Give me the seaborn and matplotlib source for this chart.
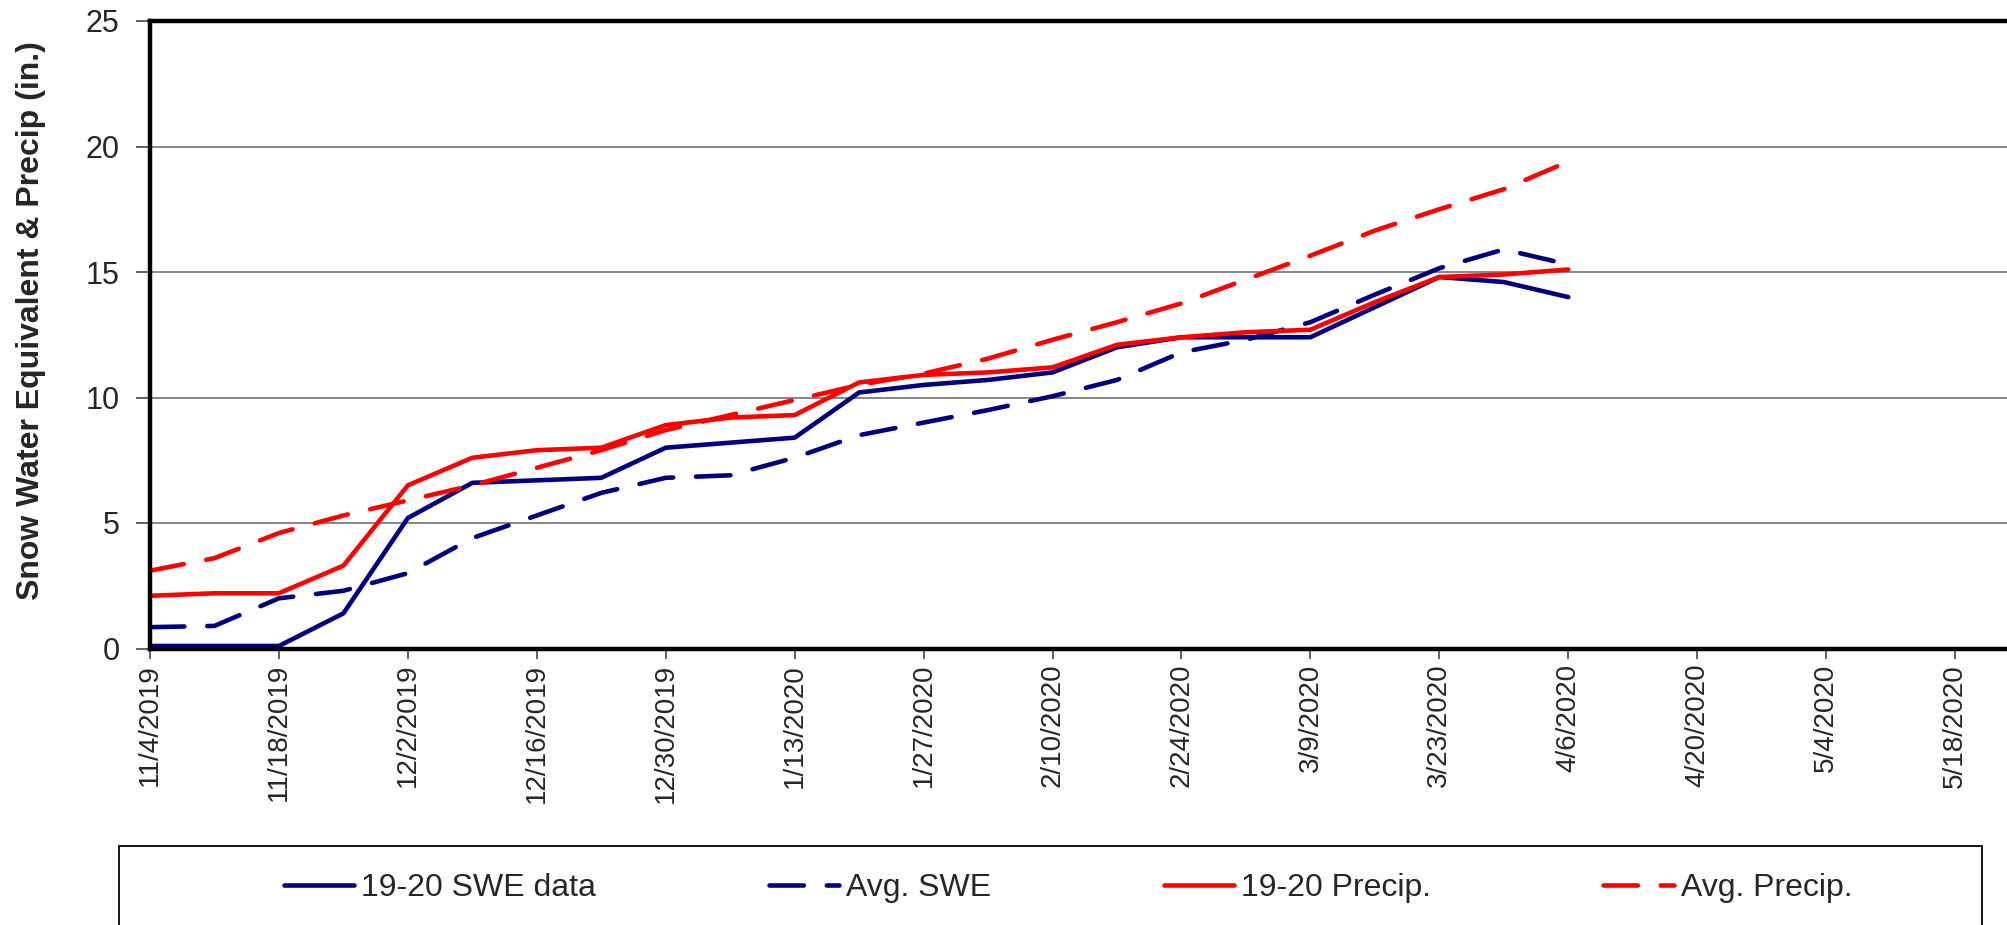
import matplotlib
matplotlib.use("Agg")
import matplotlib.pyplot as plt
from matplotlib.patches import Rectangle
import pandas as pd
import seaborn as sns

# weekly readings, 11/4/2019 - 4/6/2020
dates = pd.date_range("2019-11-04", "2020-04-06", freq="7D")
swe = [0.1, 0.1, 0.1, 1.4, 5.2, 6.6, 6.7, 6.8, 8.0, 8.2, 8.4, 10.2,
       10.5, 10.7, 11.0, 12.0, 12.4, 12.4, 12.4, 13.6, 14.8, 14.6, 14.0]
avg_swe = [0.85, 0.9, 2.0, 2.3, 3.0, 4.4, 5.3, 6.2, 6.8, 6.9, 7.6, 8.5,
           9.0, 9.5, 10.05, 10.7, 11.8, 12.3, 13.0, 14.1, 15.15, 15.9, 15.3]
precip = [2.1, 2.2, 2.2, 3.3, 6.5, 7.6, 7.9, 8.0, 8.9, 9.2, 9.3, 10.6,
          10.9, 11.0, 11.2, 12.1, 12.4, 12.6, 12.7, 13.8, 14.8, 14.9, 15.1]
avg_precip = [3.1, 3.6, 4.6, 5.3, 5.9, 6.5, 7.2, 7.9, 8.7, 9.3, 9.9, 10.5,
              10.95, 11.55, 12.3, 13.0, 13.75, 14.7, 15.65, 16.65, 17.5, 18.3, 19.4]

series_names = ["19-20 SWE data", "Avg. SWE", "19-20 Precip.", "Avg. Precip."]
tick_dates = pd.date_range("2019-11-04", "2020-05-18", freq="14D")
y_ticks = [0, 5, 10, 15, 20, 25]

sns.set_style("white")
plt.rcParams["font.family"] = ["Liberation Sans", "DejaVu Sans"]

W, H = 2007, 925
fig = plt.figure(figsize=(W / 100, H / 100), dpi=100)
# axes runs past the right edge of the picture like the original
ax = fig.add_axes([150 / W, 1 - 648.5 / H, 1934 / W, 627.5 / H])

navy = "#000080"
red = "#FF0000"
dash = (7.5, 5)
lw = 3.3

sns.lineplot(x=dates, y=swe, ax=ax, color=navy, lw=lw, label=series_names[0])
sns.lineplot(x=dates, y=avg_swe, ax=ax, color=navy, lw=lw, label=series_names[1],
             dashes=False, linestyle=(0, dash), dash_capstyle="round")
sns.lineplot(x=dates, y=precip, ax=ax, color=red, lw=lw, label=series_names[2])
sns.lineplot(x=dates, y=avg_precip, ax=ax, color=red, lw=lw, label=series_names[3],
             dashes=False, linestyle=(0, dash), dash_capstyle="round")

ax.set_xlim(pd.Timestamp("2019-11-04"), pd.Timestamp("2020-06-01"))
ax.set_ylim(0, 25)
ax.set_yticks(y_ticks)
ax.set_xticks(tick_dates)
ax.set_xticklabels([f"{d.month}/{d.day}/{d.year}" for d in tick_dates],
                   rotation=90, fontsize=20)
ax.tick_params(axis="y", labelsize=22, direction="out", length=10, width=1.3,
               color="#555555", pad=12, left=True)
ax.tick_params(axis="x", direction="out", length=7, width=1.3,
               color="#555555", pad=4, bottom=True)

ax.yaxis.grid(True, color="#666666", lw=1.1)
ax.xaxis.grid(False)
ax.set_axisbelow(True)

for side in ["left", "bottom", "top", "right"]:
    ax.spines[side].set_visible(True)
    ax.spines[side].set_color("black")
    ax.spines[side].set_linewidth(3.2)

ax.set_xlabel("")
ax.set_ylabel("Snow Water Equivalent & Precip (in.)", fontsize=23, fontweight="bold")
ax.yaxis.set_label_coords((46 - 150) / 1934, (648.5 - 321) / 627.5)

# legend frame is wider than its entries and cut by the bottom edge
fig.patches.append(Rectangle((119 / W, -0.05), (1982 - 119) / W, (925 - 846) / H + 0.05,
                             transform=fig.transFigure, fill=False,
                             edgecolor="black", lw=1.3))
ax.legend(loc="center left", bbox_to_anchor=(284 / W, 1 - 888 / H),
          bbox_transform=fig.transFigure, ncol=4, frameon=False, fontsize=23,
          handlelength=2.2, handletextpad=0.22, columnspacing=5.4,
          borderpad=0, borderaxespad=0)

fig.savefig("out.png", dpi=100)
